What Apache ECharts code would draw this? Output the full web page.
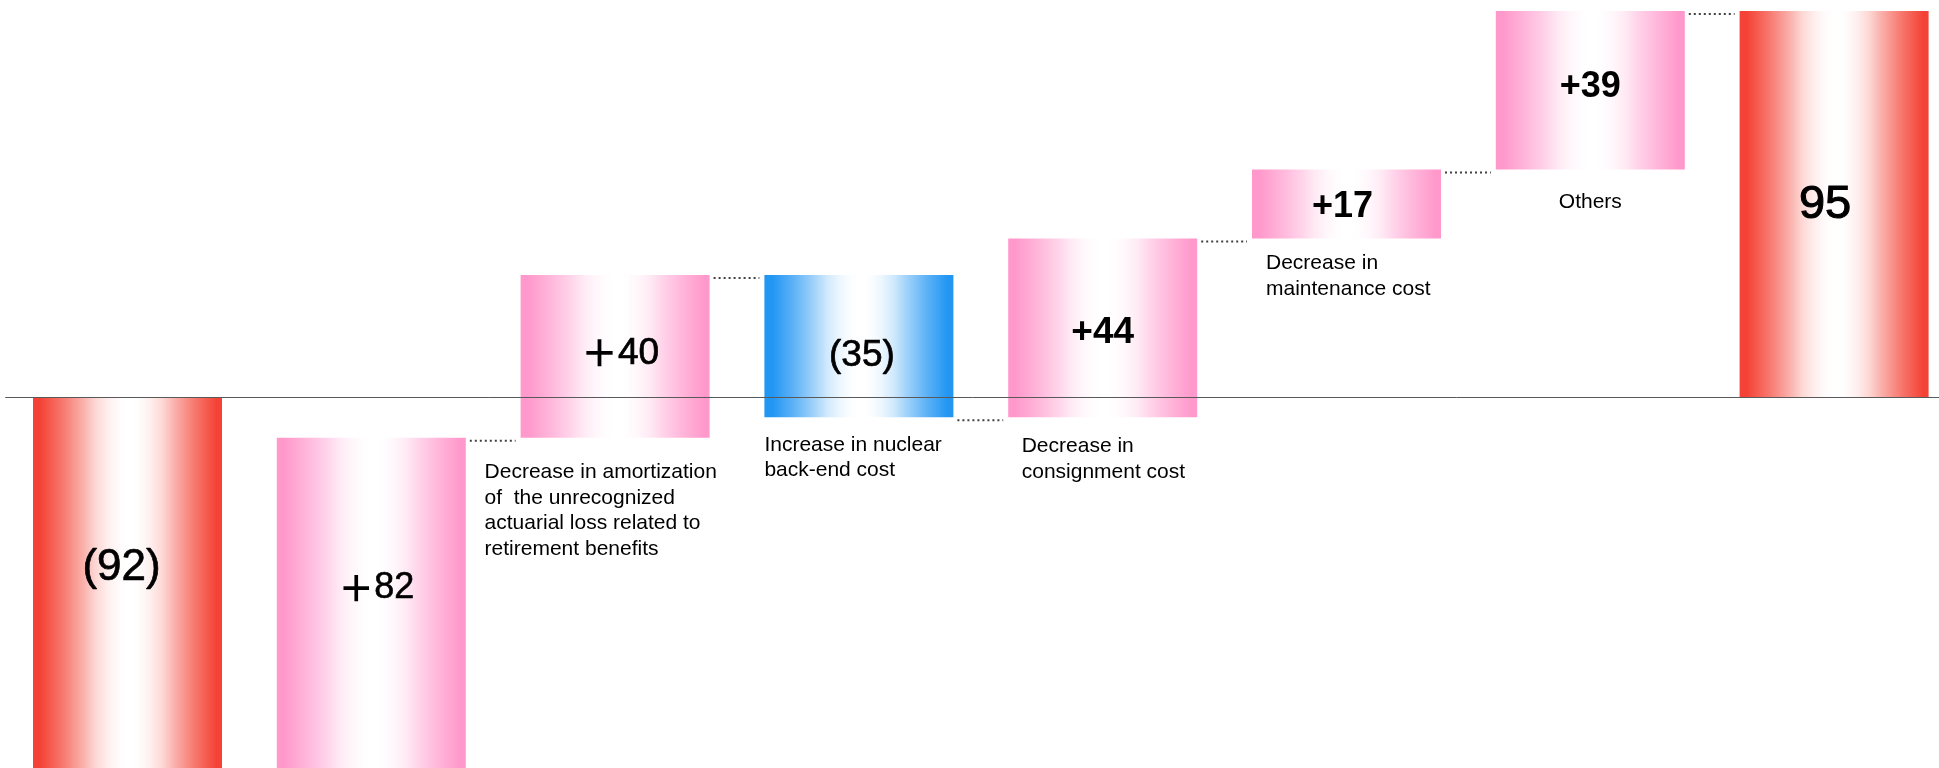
<!DOCTYPE html>
<html>
<head>
<meta charset="utf-8">
<script src="https://cdn.jsdelivr.net/npm/echarts@6/dist/echarts.min.js"></script>
<style>
html,body{margin:0;padding:0;background:#ffffff;}
#chart{width:1939px;height:768px;}
</style>
</head>
<body>
<div id="chart"></div>
<script>
// ---------- data ----------
const categories = [
  "",
  "",
  "Decrease in amortization\nof  the unrecognized\nactuarial loss related to\nretirement benefits",
  "Increase in nuclear\nback-end cost",
  "Decrease in\nconsignment cost",
  "Decrease in\nmaintenance cost",
  "Others",
  ""
];
const values = [-92, 82, 40, -35, 44, 17, 39, 95];
const kinds = ["total", "up", "up", "down", "up", "up", "up", "total"];
const valueLabels = ["(92)", "＋82", "＋40", "(35)", "+44", "+17", "+39", "95"];

// ---------- styles / layout ----------
const FONT = '"Liberation Sans", Arial, sans-serif';
const CJK = '"Noto Sans CJK JP", "Noto Sans CJK SC", sans-serif';
const colors = { total: [244, 67, 54], up: [255, 153, 204], down: [33, 150, 243] };
const labelSize = [44, 36, 37, 37, 37, 36, 36, 47];
const labelWeight = ["normal", "normal", "normal", "normal", "bold", "bold", "bold", "normal"];
const labelStroke = [0.7, 0.6, 0.7, 0.7, 0, 0, 0, 1.1];
const labelDx = [-6, 5, 5, 3, 0, -4, 0, -9];
const labelDy = [-16, -16, -3, 10, 5, 3, -3, 1];
const descDx = [0, 0, -36, 0, 13.5, 14, 63, 0];
const descDy = [0, 0, 22, 15, 16.6, 12, 19.5, 0];
const BAR_RATIO = 189 / 243.8;
// gradient profile (fraction of edge colour along half of the bar)
const fadeU = [0, 0.26, 0.5, 0.65, 0.8, 0.92, 1];
const fadeW = [1, 0.72, 0.42, 0.21, 0.08, 0.02, 0];

// ---------- derived waterfall ranges ----------
const rows = [];
let running = 0;
values.forEach(function (v, i) {
  let s, e;
  if (kinds[i] === "total") { s = 0; e = v; }
  else { s = running; e = running + v; }
  running = e;
  rows.push([i, s, e]);
});

function mix(c, w) {
  return "rgb(" + c.map(function (ch) { return Math.round(255 + (ch - 255) * w); }).join(",") + ")";
}
function grad(c) {
  const stops = [{ offset: 0, color: mix(c, 1) }];
  const l0 = 0.04, l1 = 0.49, r0 = 0.53, r1 = 0.97;
  fadeU.forEach(function (u, k) { stops.push({ offset: l0 + (l1 - l0) * u, color: mix(c, fadeW[k]) }); });
  for (let k = fadeU.length - 1; k >= 0; k--) {
    stops.push({ offset: r1 - (r1 - r0) * fadeU[k], color: mix(c, fadeW[k]) });
  }
  stops.push({ offset: 1, color: mix(c, 1) });
  return new echarts.graphic.LinearGradient(0, 0, 1, 0, stops);
}

function labelText(t) {
  if (t.charAt(0) === "＋") return "{p|＋}{n|" + t.slice(1) + "}";
  return "{n|" + t + "}";
}

const chart = echarts.init(document.getElementById("chart"), null, { renderer: "canvas" });
chart.setOption({
  animation: false,
  backgroundColor: "#ffffff",
  grid: { left: 5.6, top: 11, width: 1950.4, height: 759.8, containLabel: false, outerBoundsMode: "none" },
  xAxis: {
    type: "category",
    data: categories.map(function (c, i) { return String(i); }),
    z: 10,
    axisLine: { show: true, onZero: true, lineStyle: { color: "#595959", width: 1 } },
    axisTick: { show: false },
    axisLabel: { show: false },
    splitLine: { show: false }
  },
  yAxis: {
    type: "value",
    min: -92,
    max: 95,
    show: false,
    splitLine: { show: false }
  },
  series: [{
    type: "custom",
    clip: false,
    z: 2,
    encode: { x: 0, y: [1, 2] },
    data: rows,
    renderItem: function (params, api) {
      const i = params.dataIndex;
      const s = api.value(1), e = api.value(2);
      const ps = api.coord([i, s]);
      const pe = api.coord([i, e]);
      const band = api.size([1, 0])[0];
      const w = band * BAR_RATIO;
      const x = ps[0] - w / 2;
      const yTop = Math.min(ps[1], pe[1]);
      const yBot = Math.max(ps[1], pe[1]);
      const children = [];
      children.push({
        type: "rect",
        shape: { x: x, y: yTop, width: w, height: yBot - yTop },
        style: { fill: grad(colors[kinds[i]]) }
      });
      const sz = labelSize[i];
      children.push({
        type: "text",
        style: {
          text: labelText(valueLabels[i]),
          x: ps[0] + labelDx[i],
          y: (yTop + yBot) / 2 + labelDy[i],
          align: "center",
          verticalAlign: "middle",
          rich: {
            n: {
              fontFamily: FONT, fontSize: sz, fontWeight: labelWeight[i],
              fill: "#000000", stroke: labelStroke[i] ? "#000000" : null, lineWidth: labelStroke[i],
              lineHeight: sz * 1.2
            },
            p: {
              fontFamily: CJK, fontSize: sz, fontWeight: "bold",
              fill: "#000000", lineHeight: sz * 1.2
            }
          }
        }
      });
      if (categories[i]) {
        children.push({
          type: "text",
          style: {
            text: categories[i],
            x: x + descDx[i],
            y: yBot + descDy[i],
            align: "left",
            verticalAlign: "top",
            fontFamily: FONT,
            fontSize: 21,
            lineHeight: 25.5,
            fill: "#000000"
          }
        });
      }
      if (i < rows.length - 1) {
        const pn = api.coord([i + 1, e]);
        children.push({
          type: "line",
          shape: { x1: x + w + 4, y1: pe[1] + 3, x2: pn[0] - w / 2 - 5, y2: pe[1] + 3 },
          style: { stroke: "#404040", lineWidth: 2, lineDash: [2, 3] }
        });
      }
      return { type: "group", children: children };
    }
  }]
});
</script>
</body>
</html>
